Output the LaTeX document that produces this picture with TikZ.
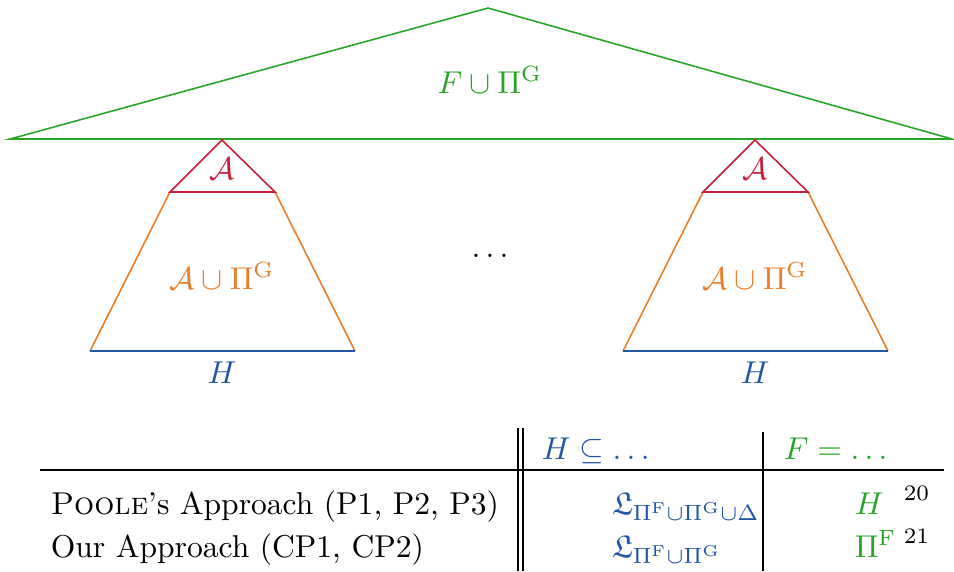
\documentclass[tikz,border=0pt]{standalone}
\usepackage{amssymb}
\definecolor{cgreen}{RGB}{40,165,40}
\definecolor{cred}{RGB}{200,30,55}
\definecolor{corange}{RGB}{235,125,40}
\definecolor{cblue}{RGB}{35,85,165}
\begin{document}
\begin{tikzpicture}[x=0.3166pt,y=-0.3166pt,
  lbl/.style={inner sep=1pt},
  edge/.style={line width=0.5pt},
  rule/.style={line width=0.9pt}]
\useasboundingbox (0,0) rectangle (954,571);
% big green triangle
\coordinate (gT) at (488,8);
\coordinate (gL) at (10,139);
\coordinate (gR) at (952,139);
\draw[edge,cgreen,line join=miter] (gL) -- (gT) -- (gR) -- cycle;
\node[lbl,text=cgreen] (gLab) at (490,80) {$F\cup\Pi^{\mathrm{G}}$};
% two lower structures
\foreach \c/\n in {222/l,755/r}{
  \coordinate (\n A) at (\c,140);
  \coordinate (\n B) at (\c-52,192);
  \coordinate (\n C) at (\c+53,192);
  \coordinate (\n D) at (\c-132,351);
  \coordinate (\n E) at (\c+133,351);
  \draw[edge,corange] (\n B) -- (\n D);
  \draw[edge,corange] (\n C) -- (\n E);
  \draw[edge,cblue] (\n D) -- (\n E);
  \draw[edge,cred,line join=miter] (\n B) -- (\n A) -- (\n C) -- cycle;
  \node[lbl,text=cred] (\n Alab) at (\c,169) {$\mathcal{A}$};
  \node[lbl,text=corange] (\n AGlab) at (\c,276) {$\mathcal{A}\cup\Pi^{\mathrm{G}}$};
  \node[lbl,text=cblue] (\n Hlab) at (\c,373) {$H$};
}
\node[lbl] (dots) at (490,256) {$\dots$};
% table
\coordinate (hl1) at (40,470);
\coordinate (hl2) at (944,470);
\draw[rule] (hl1) -- (hl2);
\coordinate (v1t) at (518,428); \coordinate (v1b) at (518,571);
\coordinate (v2t) at (523,428); \coordinate (v2b) at (523,571);
\coordinate (v3t) at (763,432); \coordinate (v3b) at (763,571);
\draw[edge] (v1t) -- (v1b);
\draw[edge] (v2t) -- (v2b);
\draw[edge] (v3t) -- (v3b);
\node[lbl,anchor=base west,text=cblue] (h1) at (538,459) {$H\subseteq\dots$};
\node[lbl,anchor=base west,text=cgreen] (h2) at (780,459) {$F=\dots$};
\node[lbl,anchor=base west] (r1) at (47,514) {\textsc{Poole}'s Approach (P1, P2, P3)};
\node[lbl,anchor=base west] (r2) at (47,557) {Our Approach (CP1, CP2)};
\node[lbl,anchor=base west,text=cblue] (c11) at (608,514) {$\mathfrak{L}_{\Pi^{\mathrm{F}}\cup\Pi^{\mathrm{G}}\cup\Delta}$};
\node[lbl,anchor=base west,text=cblue] (c21) at (608,557) {$\mathfrak{L}_{\Pi^{\mathrm{F}}\cup\Pi^{\mathrm{G}}}$};
\node[lbl,anchor=base west,text=cgreen] (c12) at (851,514) {$H$};
\node[lbl,anchor=base west,text=cgreen] (c22) at (851,557) {$\Pi^{\mathrm{F}}$};
\node[lbl,anchor=base west,font=\scriptsize] (f1) at (900,500) {20};
\node[lbl,anchor=base west,font=\scriptsize] (f2) at (900,543) {21};
\end{tikzpicture}
\end{document}
